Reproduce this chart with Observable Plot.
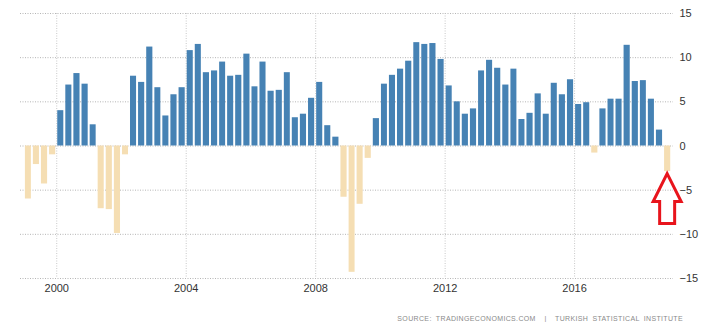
<!DOCTYPE html>
<html><head><meta charset="utf-8">
<script src="https://cdn.jsdelivr.net/npm/d3@7"></script>
<script src="https://cdn.jsdelivr.net/npm/@observablehq/plot@0.6"></script>
<style>
body{margin:0;background:#fff;font-family:"Liberation Sans",Arial,sans-serif;}
#chart svg{display:block}
#source{font-size:7px;color:#8a8a8a;letter-spacing:0.35px;word-spacing:2px;text-align:right;padding-right:27px;margin-top:9px;white-space:nowrap}
</style></head><body>
<div id="chart"></div>
<div id="source">SOURCE: TRADINGECONOMICS.COM &nbsp;|&nbsp; TURKISH STATISTICAL INSTITUTE</div>
<script>
const startYear = 1999;
// Quarterly GDP growth (%), 1999 Q1 .. 2018 Q4
const growth = [
  -6.0, -2.1, -4.3, -1.0,
   4.0,  6.9,  8.2,  7.0,
   2.4, -7.1, -7.2, -9.9,
  -1.0,  7.9,  7.2, 11.2,
   6.6,  3.4,  5.8,  6.6,
  10.8, 11.5,  8.3,  8.5,
   9.5,  7.9,  8.0, 10.4,
   6.7,  9.5,  6.2,  6.3,
   8.3,  3.2,  3.6,  5.4,
   7.2,  2.3,  1.0, -5.8,
 -14.3, -6.6, -1.4,  3.1,
   7.0,  8.0,  8.7,  9.6,
  11.7, 11.5, 11.6,  9.8,
   6.8,  5.0,  3.6,  4.2,
   8.5,  9.7,  8.8,  6.9,
   8.7,  3.0,  3.7,  5.9,
   3.6,  7.1,  5.8,  7.5,
   4.7,  4.9, -0.8,  4.2,
   5.3,  5.3, 11.4,  7.3,
   7.4,  5.3,  1.8, -2.9
];
const yTicks = [-15, -10, -5, 0, 5, 10, 15];
const xTickYears = [2000, 2004, 2008, 2012, 2016];

const qStart = i => new Date(Date.UTC(startYear + Math.floor(i / 4), (i % 4) * 3, 1));
const quarters = growth.map((v, i) => ({x1: qStart(i), x2: qStart(i + 1), value: v}));
const xTicks = xTickYears.map(y => new Date(Date.UTC(y, 0, 1)));

const plot = Plot.plot({
  width: 710,
  height: 306,
  marginLeft: 20,
  marginRight: 37,
  marginTop: 13,
  marginBottom: 28,
  style: {fontFamily: '"Liberation Sans", Arial, sans-serif', fontSize: "11px", color: "#333", background: "#fff", overflow: "visible"},
  x: {type: "utc", domain: [new Date(Date.UTC(1998, 10, 18)), new Date(Date.UTC(2019, 0, 21))],
      ticks: xTicks, tickFormat: d3.utcFormat("%Y"), tickSize: 0, tickPadding: 6, label: null},
  y: {domain: [-15, 15], ticks: yTicks, axis: "right", tickSize: 0, tickPadding: 6, label: null},
  color: {type: "identity"},
  marks: [
    Plot.gridY(yTicks, {stroke: "#b5b5b5", strokeOpacity: 1, strokeDasharray: "1,1.5"}),
    Plot.gridX(xTicks, {stroke: "#c8c8c8", strokeOpacity: 1, strokeDasharray: "1,1.5"}),
    Plot.rectY(quarters, {x1: "x1", x2: "x2", y: "value",
      fill: d => d.value >= 0 ? "#4682b4" : "#f5deb3", insetLeft: 1, insetRight: 1})
  ]
});
document.getElementById("chart").append(plot);

// red annotation arrow pointing at the latest quarter
const last = quarters[quarters.length - 1];
const sx = plot.scale("x"), sy = plot.scale("y");
const cx = (sx.apply(last.x1) + sx.apply(last.x2)) / 2;
const tip = sy.apply(last.value) + 2.5;
const p = `M${cx},${tip} L${cx + 14},${tip + 28} L${cx + 7.5},${tip + 28} L${cx + 7.5},${tip + 50} L${cx - 7.5},${tip + 50} L${cx - 7.5},${tip + 28} L${cx - 14},${tip + 28} Z`;
d3.select(plot).append("path").attr("d", p).attr("fill", "none")
  .attr("stroke", "#e8141c").attr("stroke-width", 3).attr("stroke-linejoin", "miter");
</script>
</body></html>
